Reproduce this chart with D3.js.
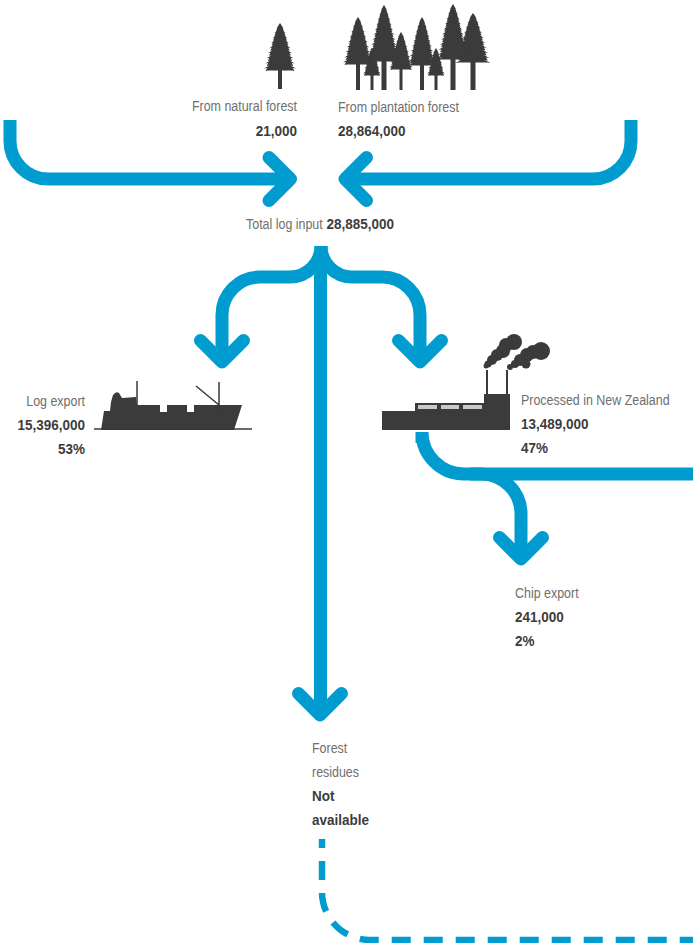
<!DOCTYPE html>
<html>
<head>
<meta charset="utf-8">
<script src="https://cdn.jsdelivr.net/npm/d3@7"></script>
<style>
	html, body { margin: 0; padding: 0; background: white; }
	svg { display: block; }
	.light { font-family: "Liberation Sans", sans-serif; font-size: 15px; fill: #6f6f6f; }
	.bold { font-family: "Liberation Sans", sans-serif; font-size: 15px; font-weight: bold; fill: #3c3c3c; }
</style>
</head>
<body>
<div id="chart"></div>
<script>
// wood flow values (cubic metres)
const flowNames = ['From natural forest', 'From plantation forest', 'Total log input', 'Log export', 'Processed in New Zealand', 'Chip export'];
const flowValues = [21000, 28864000, 28885000, 15396000, 13489000, 241000];
const flowShares = [null, null, null, 53, 47, 2];
const residueLabel = ['Forest', 'residues'];
const residueValue = ['Not', 'available'];

const width = 693, height = 943;
const blue = '#009ccf', dark = '#3a3a3a';
const fmt = d3.format(',');

let svg = d3.select('#chart')
	.append('svg')
		.attr('width', width)
		.attr('height', height);

svg.append('defs').append('filter')
	.attr('id', 'soft')
	.append('feGaussianBlur')
		.attr('stdDeviation', 0.5);

// polyline with rounded corners: [x, y, corner radius]
function flowPath(pts) {
	let p = d3.path();
	p.moveTo(pts[0][0], pts[0][1]);
	for (let i = 1; i < pts.length - 1; i++) {
		p.arcTo(pts[i][0], pts[i][1], pts[i + 1][0], pts[i + 1][1], pts[i][2]);
	}
	let last = pts[pts.length - 1];
	p.lineTo(last[0], last[1]);
	return p.toString();
}

// flows
let flows = [
	[[10, 120], [10, 179, 38], [286, 179]],
	[[631, 120], [631, 179, 38], [350, 179]],
	[[321, 246], [321, 277, 31], [222, 277, 38], [222, 355]],
	[[321, 246], [321, 277, 31], [420, 277, 38], [420, 355]],
	[[320.5, 250], [320.5, 708]],
	[[422, 443], [422, 474, 42], [693, 474]],
	[[470, 474], [521, 474, 40], [521, 552]]
];
let flowGroup = svg.append('g');
flowGroup.selectAll('path.flow')
	.data(flows)
	.enter()
	.append('path')
		.attr('class', 'flow')
		.attr('d', flowPath)
		.attr('fill', 'none')
		.attr('stroke', blue)
		.attr('stroke-width', 13);

// arrow heads: tip position and direction
let heads = [
	{ x: 290.5, y: 179, dir: 'right' },
	{ x: 345, y: 179, dir: 'left' },
	{ x: 222, y: 362, dir: 'down' },
	{ x: 420, y: 362, dir: 'down' },
	{ x: 320, y: 715, dir: 'down' },
	{ x: 521, y: 559, dir: 'down' }
];
flowGroup.selectAll('path.head')
	.data(heads)
	.enter()
	.append('path')
		.attr('class', 'head')
		.attr('d', d => {
			let a = 21.5;
			if (d.dir == 'right') return `M${d.x - a},${d.y - a}L${d.x},${d.y}L${d.x - a},${d.y + a}`;
			if (d.dir == 'left') return `M${d.x + a},${d.y - a}L${d.x},${d.y}L${d.x + a},${d.y + a}`;
			return `M${d.x - a},${d.y - a}L${d.x},${d.y}L${d.x + a},${d.y - a}`;
		})
		.attr('fill', 'none')
		.attr('stroke', blue)
		.attr('stroke-width', 13)
		.attr('stroke-linecap', 'round')
		.attr('stroke-linejoin', 'round');

// dashed residue flow
svg.append('path')
	.attr('d', flowPath([[322, 839], [322, 940, 48], [693, 940]]))
	.attr('fill', 'none')
	.attr('stroke', blue)
	.attr('stroke-width', 6.5)
	.attr('stroke-dasharray', '19 13')
	.attr('stroke-dashoffset', 10);

// jagged conifer, branch tips alternate in length
function treePath(t) {
	let tiers = Math.round((t.base - t.top) / 2.5);
	let right = [], left = [];
	for (let i = 1; i <= tiers; i++) {
		let y = t.top + (t.base - t.top) * i / tiers;
		let w = t.hw * Math.pow(i / tiers, 0.72) * (i % 2 ? 0.9 : 1.04);
		right.push([t.x + w, y], [t.x + w * 0.8, y - 0.4]);
		left.unshift([t.x - w * 0.8, y - 0.4], [t.x - w, y]);
	}
	return d3.line()([[t.x, t.top]].concat(right, left)) + 'Z';
}

let trees = [
	{ x: 280, top: 23, base: 71, hw: 16, tw: 4, foot: 89 },
	{ x: 372, top: 48, base: 76, hw: 9, tw: 3, foot: 90 },
	{ x: 436, top: 48, base: 76, hw: 9, tw: 3, foot: 90 },
	{ x: 358, top: 17, base: 65, hw: 15, tw: 4, foot: 90 },
	{ x: 401, top: 32, base: 70, hw: 12, tw: 3, foot: 90 },
	{ x: 384, top: 5, base: 62, hw: 16, tw: 5, foot: 90 },
	{ x: 422, top: 17, base: 66, hw: 14, tw: 4, foot: 90 },
	{ x: 473, top: 13, base: 63, hw: 17, tw: 5, foot: 90 },
	{ x: 453, top: 4, base: 60, hw: 16, tw: 5, foot: 90 }
];
let treeGroup = svg.append('g')
	.attr('fill', dark)
	.attr('filter', 'url(#soft)');
treeGroup.selectAll('path')
	.data(trees)
	.enter()
	.append('path')
		.attr('d', treePath);
treeGroup.selectAll('rect')
	.data(trees)
	.enter()
	.append('rect')
		.attr('x', d => d.x - d.tw / 2)
		.attr('y', d => d.base - 2)
		.attr('width', d => d.tw)
		.attr('height', d => d.foot - d.base + 2);

// ship
let shipGroup = svg.append('g').attr('filter', 'url(#soft)');
shipGroup.append('path')
	.attr('d', 'M101,430L104,411L110,411L111,402L113,395Q116,391 119,393L122,398L136,397L137,405L160,405L160,412L167,412L167,405L187,405L187,412L194,412L194,405L242,405L234,430Z')
	.attr('fill', dark);
shipGroup.append('path')
	.attr('d', 'M94,429H252M137,381V405M219,382V411M196,386L219,405')
	.attr('fill', 'none')
	.attr('stroke', dark)
	.attr('stroke-width', 1.5);

// factory
let factoryGroup = svg.append('g').attr('filter', 'url(#soft)');
factoryGroup.append('path')
	.attr('d', 'M382,430V411H415V403H484V394H510V430Z')
	.attr('fill', dark);
factoryGroup.append('path')
	.attr('d', 'M487,370V394M507,370V394')
	.attr('stroke', dark)
	.attr('stroke-width', 2);
factoryGroup.selectAll('rect')
	.data([[418, 19], [441, 18], [463, 19]])
	.enter()
	.append('rect')
		.attr('x', d => d[0])
		.attr('y', 405)
		.attr('width', d => d[1])
		.attr('height', 4)
		.attr('fill', '#c9c9c9');
let smoke = [
	[514, 342, 8], [506, 345, 7], [503, 351, 7], [497, 355, 6], [492, 360, 5], [488, 364, 3.5], [486, 366, 2.5],
	[541, 351, 9], [533, 352, 7], [527, 355, 7], [520, 360, 6], [515, 364, 4], [526, 364, 4.5], [510, 367, 3]
];
factoryGroup.selectAll('circle')
	.data(smoke)
	.enter()
	.append('circle')
		.attr('cx', d => d[0])
		.attr('cy', d => d[1])
		.attr('r', d => d[2])
		.attr('fill', dark);

// labels, squeezed sideways as the original face is condensed
const squeeze = { light: 0.83, bold: 0.9 };
function addText(x, y, str, cls, anchor) {
	return svg.append('text')
		.attr('transform', `translate(${x},${y}) scale(${squeeze[cls]},1)`)
		.attr('class', cls)
		.attr('text-anchor', anchor || 'start')
		.text(str);
}

addText(297, 111, flowNames[0], 'light', 'end');
addText(297, 136, fmt(flowValues[0]), 'bold', 'end');

addText(338, 112, flowNames[1], 'light');
addText(338, 136, fmt(flowValues[1]), 'bold');

addText(246, 229, flowNames[2], 'light');
addText(326.5, 229, fmt(flowValues[2]), 'bold');

addText(85, 406, flowNames[3], 'light', 'end');
addText(85, 430, fmt(flowValues[3]), 'bold', 'end');
addText(85, 454, flowShares[3] + '%', 'bold', 'end');

addText(521, 405, flowNames[4], 'light');
addText(521, 429, fmt(flowValues[4]), 'bold');
addText(521, 453, flowShares[4] + '%', 'bold');

addText(515, 598, flowNames[5], 'light');
addText(515, 622, fmt(flowValues[5]), 'bold');
addText(515, 646, flowShares[5] + '%', 'bold');

addText(312, 753, residueLabel[0], 'light');
addText(312, 777, residueLabel[1], 'light');
addText(312, 801, residueValue[0], 'bold');
addText(312, 825, residueValue[1], 'bold');
</script>
</body>
</html>
